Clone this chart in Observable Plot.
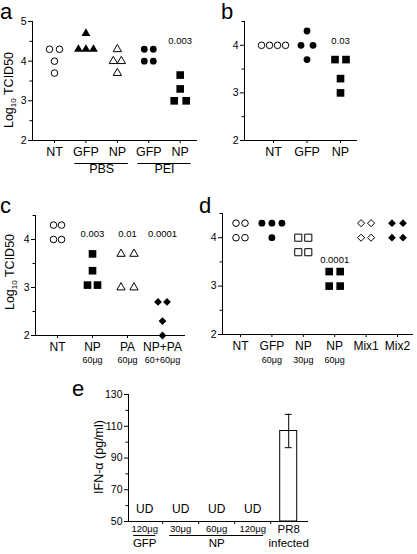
<!DOCTYPE html>
<html><head><meta charset="utf-8">
<script src="https://cdn.jsdelivr.net/npm/d3@7"></script>
<script src="https://cdn.jsdelivr.net/npm/@observablehq/plot@0.6"></script>
<style>
body{margin:0;background:#fff;}
#root{position:relative;width:417px;height:554px;overflow:hidden;background:#fff;font-family:"Liberation Sans",Arial,sans-serif;}
#root > svg{position:absolute;overflow:visible;}
</style></head><body><div id="root"></div>
<script>
// ---------------- DATA ----------------
// Panel a (Log10 TCID50)
const aCategories = ["NT","GFP","NP","GFP","NP"];
const aNT      = [4.3,4.3,4.0,3.7];
const aGFP_PBS = [4.7,4.3,4.3,4.3];
const aNP_PBS  = [4.3,4.0,4.0,3.7];
const aGFP_PEI = [4.3,4.3,4.0,4.0];
const aNP_PEI  = [3.65,3.3,3.0,3.0];
const aPValues = ["","","","","0.003"];
const aGroupLabels = ["PBS","PEI"];
const aGroupFirst = [1,3];
const aGroupLast  = [2,4];
const aYTicks = [2,3,4,5];

// Panel b
const bCategories = ["NT","GFP","NP"];
const bNT  = [4.0,4.0,4.0,4.0];
const bGFP = [4.3,4.0,4.0,3.7];
const bNP  = [3.7,3.7,3.3,3.0];
const bPValues = ["","","0.03"];
const bYTicks = [2,3,4];

// Panel c
const cCategories = ["NT","NP","PA","NP+PA"];
const cDoses = ["","60μg","60μg","60+60μg"];
const cNT   = [4.3,4.3,4.0,4.0];
const cNP   = [3.7,3.35,3.05,3.05];
const cPA   = [3.7,3.7,3.0,3.0];
const cNPPA = [2.7,2.7,2.3,2.0];
const cPValues = ["","0.003","0.01","0.0001"];
const cYTicks = [2,3,4];

// Panel d
const dCategories = ["NT","GFP","NP","NP","Mix1","Mix2"];
const dDoses = ["","60μg","30μg","60μg","",""];
const dNT   = [4.3,4.3,4.0,4.0];
const dGFP  = [4.3,4.3,4.3,4.0];
const dNP30 = [4.0,4.0,3.7,3.7];
const dNP60 = [3.3,3.3,3.0,3.0];
const dMix1 = [4.3,4.3,4.0,4.0];
const dMix2 = [4.3,4.3,4.0,4.0];
const dPValues = ["","","","0.0001","",""];
const dYTicks = [2,3,4];

// Panel e (IFN-alpha, pg/ml)
const eDoses = ["120μg","30μg","60μg","120μg","PR8"];
const eGroupLabels = ["GFP","NP","infected"];
const eGroupAt = [0,2,4];
const eUnderlineFirst = [0,1];
const eUnderlineLast = [0,3];
const eDetect = ["UD","UD","UD","UD",""];
const eMean = [null,null,null,null,107];
const eErr  = [null,null,null,null,10.5];
const eYTicks = [50,70,90,110,130];

// ---------------- HELPERS ----------------
const FONT = "Liberation Sans, Arial, sans-serif";
const root = document.getElementById("root");

function cluster(values, xi, spacingPx, pxPerUnit){
  const counts = d3.rollup(values, v => v.length, v => v);
  const seen = new Map();
  return values.map(v => {
    const n = counts.get(v), k = seen.get(v) || 0; seen.set(v, k + 1);
    return {x: xi + (k - (n - 1) / 2) * spacingPx / pxPerUnit, y: v};
  });
}
function dots(values, xi, st, ppu){
  return Plot.dot(cluster(values, xi, st.sp, ppu), {
    x: "x", y: "y", symbol: st.symbol, r: st.r,
    fill: st.filled ? "black" : "white",
    stroke: st.filled ? "none" : "black", strokeWidth: 1
  });
}
const S = {
  oc: (sp) => ({symbol:"circle", r:3.3, filled:false, sp}),
  fc: (sp) => ({symbol:"circle", r:3.4, filled:true, sp}),
  ot: (sp) => ({symbol:"triangle", r:3.1, filled:false, sp}),
  ft: (sp) => ({symbol:"triangle", r:3.3, filled:true, sp}),
  os: (sp) => ({symbol:"square", r:4.0, filled:false, sp}),
  fs: (sp) => ({symbol:"square", r:4.3, filled:true, sp}),
  od: (sp) => ({symbol:"diamond2", r:3.2, filled:false, sp}),
  fd: (sp) => ({symbol:"diamond2", r:3.5, filled:true, sp})
};
function place(svg, left, top){
  svg.style.left = left + "px"; svg.style.top = top + "px";
  root.appendChild(svg);
}
function yAxes(ticks, minor, yd, fs){
  return [
    Plot.axisY({ticks, tickSize:4, tickPadding:2, fontSize:fs, tickFormat: d => String(d), label:null}),
    Plot.axisY({ticks:minor, tickSize:2.5, tickFormat:() => "", label:null}),
    Plot.ruleY([yd[0]], {strokeWidth:1})
  ];
}
const idx = arr => arr.map((_, i) => i);

// ---------------- PANEL a ----------------
{
  const width = 205, height = 185, mL = 32, mR = 8, mT = 21, mB = 45;
  const xd = [-0.7, 4.55], yd = [2, 5];
  const ppu = (width - mL - mR) / (xd[1] - xd[0]);
  const groups = aGroupLabels.map((g, i) => ({g, first: aGroupFirst[i], last: aGroupLast[i]}));
  const pv = aPValues.map((t, i) => ({t, i})).filter(d => d.t);
  const svg = Plot.plot({
    width, height, marginLeft:mL, marginRight:mR, marginTop:mT, marginBottom:mB,
    x:{type:"linear", domain:xd}, y:{domain:yd},
    style:{background:"transparent", fontFamily:FONT, fontSize:"10px", color:"black"},
    marks:[
      ...yAxes(aYTicks, [2.5,3.5,4.5], yd, 10.5),
      Plot.ruleX([xd[0]], {strokeWidth:1}),
      Plot.axisX({ticks: idx(aCategories), tickFormat: i => aCategories[i], tickSize:3, tickPadding:4, fontSize:12.5, label:null}),
      Plot.ruleY(groups, {x1: d => d.first - 11/ppu, x2: d => d.last + 11/ppu, y: () => yd[0], dy: 23}),
      Plot.text(groups, {x: d => (d.first + d.last) / 2, text: "g", frameAnchor:"bottom", dy: 32, fontSize:12.5}),
      dots(aNT, 0, S.oc(10), ppu),
      dots(aGFP_PBS, 1, S.ft(7.5), ppu),
      dots(aNP_PBS, 2, S.ot(8), ppu),
      dots(aGFP_PEI, 3, S.fc(9), ppu),
      dots(aNP_PEI, 4, S.fs(12), ppu),
      Plot.text(pv, {x: "i", text: "t", frameAnchor:"top", dy: 15.5, fontSize:9.5})
    ]
  });
  place(svg, 0, 0);
}

// ---------------- PANEL b ----------------
{
  const width = 212, height = 185, mL = 39, mR = 60, mT = 21, mB = 45;
  const xd = [-0.866, 2.507], yd = [2, 4.5];
  const ppu = (width - mL - mR) / (xd[1] - xd[0]);
  const pv = bPValues.map((t, i) => ({t, i})).filter(d => d.t);
  const svg = Plot.plot({
    width, height, marginLeft:mL, marginRight:mR, marginTop:mT, marginBottom:mB,
    x:{type:"linear", domain:xd}, y:{domain:yd},
    style:{background:"transparent", fontFamily:FONT, fontSize:"10px", color:"black"},
    marks:[
      ...yAxes(bYTicks, [2.5,3.5,4.5], yd, 10.5),
      Plot.ruleX([xd[0]], {strokeWidth:1}),
      Plot.axisX({ticks: idx(bCategories), tickFormat: i => bCategories[i], tickSize:3, tickPadding:4, fontSize:12.5, label:null}),
      dots(bNT, 0, S.oc(8), ppu),
      dots(bGFP, 1, S.fc(12), ppu),
      dots(bNP, 2, S.fs(11), ppu),
      Plot.text(pv, {x: "i", text: "t", frameAnchor:"top", dy: 16, fontSize:9.5})
    ]
  });
  place(svg, 205, 0);
}

// ---------------- PANEL c ----------------
{
  const width = 205, height = 180, mL = 35, mR = 20, mT = 20, mB = 40;
  const xd = [-0.629, 3.657], yd = [2, 4.5];
  const ppu = (width - mL - mR) / (xd[1] - xd[0]);
  const pv = cPValues.map((t, i) => ({t, i})).filter(d => d.t);
  const svg = Plot.plot({
    width, height, marginLeft:mL, marginRight:mR, marginTop:mT, marginBottom:mB,
    x:{type:"linear", domain:xd}, y:{domain:yd},
    style:{background:"transparent", fontFamily:FONT, fontSize:"10px", color:"black"},
    marks:[
      ...yAxes(cYTicks, [2.5,3.5,4.5], yd, 10.5),
      Plot.ruleX([xd[0]], {strokeWidth:1}),
      Plot.axisX({ticks: idx(cCategories), tickFormat: i => cCategories[i], tickSize:3, tickPadding:4, fontSize:12, label:null}),
      Plot.axisX({ticks: idx(cDoses), tickFormat: i => cDoses[i], tickSize:0, tickPadding:21, fontSize:9, label:null}),
      dots(cNT, 0, S.oc(8), ppu),
      dots(cNP, 1, S.fs(10), ppu),
      dots(cPA, 2, S.ot(13), ppu),
      dots(cNPPA, 3, S.fd(9), ppu),
      Plot.text(pv, {x: "i", text: "t", frameAnchor:"top", dy: 14.5, fontSize:9.5})
    ]
  });
  place(svg, 0, 195);
}

// ---------------- PANEL d ----------------
{
  const width = 212, height = 180, mL = 17, mR = 4, mT = 18, mB = 41;
  const xd = [-0.573, 5.51], yd = [2, 4.5];
  const ppu = (width - mL - mR) / (xd[1] - xd[0]);
  const pv = dPValues.map((t, i) => ({t, i})).filter(d => d.t);
  const svg = Plot.plot({
    width, height, marginLeft:mL, marginRight:mR, marginTop:mT, marginBottom:mB,
    x:{type:"linear", domain:xd}, y:{domain:yd},
    style:{background:"transparent", fontFamily:FONT, fontSize:"10px", color:"black"},
    marks:[
      ...yAxes(dYTicks, [2.5,3.5,4.5], yd, 10.5),
      Plot.ruleX([xd[0]], {strokeWidth:1}),
      Plot.axisX({ticks: idx(dCategories), tickFormat: i => dCategories[i], tickSize:3, tickPadding:4, fontSize:12, label:null}),
      Plot.axisX({ticks: idx(dDoses), tickFormat: i => dDoses[i], tickSize:0, tickPadding:22, fontSize:9, label:null}),
      dots(dNT, 0, S.oc(9), ppu),
      dots(dGFP, 1, S.fc(10), ppu),
      dots(dNP30, 2, S.os(10), ppu),
      dots(dNP60, 3, S.fs(11), ppu),
      dots(dMix1, 4, S.od(10), ppu),
      dots(dMix2, 5, S.fd(11), ppu),
      Plot.text(pv, {x: "i", text: "t", frameAnchor:"top", dy: 43, fontSize:9.5})
    ]
  });
  place(svg, 205, 195);
}

// ---------------- PANEL e ----------------
{
  const width = 417, height = 174, mL = 128, mR = 109, mT = 14, mB = 33;
  const xd = [-0.45, 4.55], yd = [50, 130];
  const ppu = (width - mL - mR) / (xd[1] - xd[0]);
  const rows = eDoses.map((dose, i) => ({i, dose, ud: eDetect[i], mean: eMean[i], err: eErr[i]}));
  const bars = rows.filter(d => d.mean != null);
  const ud = rows.filter(d => d.ud);
  const groups = eGroupLabels.map((g, k) => ({g, at: eGroupAt[k]}));
  const lines = eUnderlineFirst.map((f, k) => ({f, l: eUnderlineLast[k]}));
  const halfBar = 8.5 / ppu, halfCap = 3.5 / ppu;
  const doseTicks = rows.filter(d => d.dose !== "PR8").map(d => d.i);
  const svg = Plot.plot({
    width, height, marginLeft:mL, marginRight:mR, marginTop:mT, marginBottom:mB,
    x:{type:"linear", domain:xd}, y:{domain:yd},
    style:{background:"transparent", fontFamily:FONT, fontSize:"10px", color:"black"},
    marks:[
      Plot.rectY(bars, {x1: d => d.i - halfBar, x2: d => d.i + halfBar, y1: () => yd[0], y2: "mean", fill:"white", stroke:"black", strokeWidth:1}),
      Plot.ruleX(bars, {x: "i", y1: d => d.mean - d.err, y2: d => d.mean + d.err, strokeWidth:1}),
      Plot.ruleY(bars, {y: d => d.mean - d.err, x1: d => d.i - halfCap, x2: d => d.i + halfCap, strokeWidth:1}),
      Plot.ruleY(bars, {y: d => d.mean + d.err, x1: d => d.i - halfCap, x2: d => d.i + halfCap, strokeWidth:1}),
      Plot.axisY({ticks: eYTicks, tickSize:4, tickPadding:2, fontSize:10.5, tickFormat: d => String(d), label:null}),
      Plot.axisY({ticks: [60,80,100,120], tickSize:2.5, tickFormat:() => "", label:null}),
      Plot.ruleY([yd[0]], {x1: xd[0], x2: xd[1]}),
      Plot.ruleX([xd[0]]),
      Plot.axisX({ticks: [0.5,1.5,2.5,3.5], tickSize:3, tickFormat:() => "", label:null}),
      Plot.axisX({ticks: doseTicks, tickFormat: i => eDoses[i], tickSize:0, tickPadding:4, fontSize:9.5, label:null}),
      Plot.axisX({ticks: [4], tickFormat: i => eDoses[i], tickSize:0, tickPadding:3, fontSize:11.5, label:null}),
      Plot.ruleY(lines, {x1: d => d.f - 11/ppu, x2: d => d.l + 11/ppu, y: () => yd[0], dy: 14}),
      Plot.text(groups, {x: "at", text: "g", frameAnchor:"bottom", dy: 25, fontSize:11.5}),
      Plot.text(ud, {x: "i", text: "ud", frameAnchor:"bottom", dy: -9, fontSize:12})
    ]
  });
  place(svg, 0, 380);
}

// ---------------- LETTERS & Y LABELS ----------------
{
  const ns = "http://www.w3.org/2000/svg";
  const svg = document.createElementNS(ns, "svg");
  svg.setAttribute("width", 417); svg.setAttribute("height", 554);
  svg.style.left = "0px"; svg.style.top = "0px"; svg.style.pointerEvents = "none";
  svg.setAttribute("font-family", FONT);
  const letters = [["a",0,19],["b",221,19],["c",0,213],["d",199,213],["e",72,396]];
  for (const [t,x,y] of letters){
    const el = document.createElementNS(ns, "text");
    el.setAttribute("x", x); el.setAttribute("y", y); el.setAttribute("font-size", 22);
    el.textContent = t; svg.appendChild(el);
  }
  function ylab(cx, cy, parts){
    const el = document.createElementNS(ns, "text");
    el.setAttribute("transform", `translate(${cx},${cy}) rotate(-90)`);
    el.setAttribute("text-anchor", "middle"); el.setAttribute("dy", "0.35em");
    el.setAttribute("font-size", 12.5);
    let shifted = false;
    for (const [txt, sub] of parts){
      const ts = document.createElementNS(ns, "tspan");
      if (sub){ ts.setAttribute("font-size", 8); ts.setAttribute("dy", 3); shifted = true; }
      else if (shifted){ ts.setAttribute("dy", -3); shifted = false; }
      ts.textContent = txt; el.appendChild(ts);
    }
    svg.appendChild(el);
  }
  ylab(9, 90, [["Log",0],["10",1],[" TCID50",0]]);
  ylab(10, 272, [["Log",0],["10",1],[" TCID50",0]]);
  ylab(99, 457, [["IFN-α (pg/ml)",0]]);
  root.appendChild(svg);
}
</script></body></html>
